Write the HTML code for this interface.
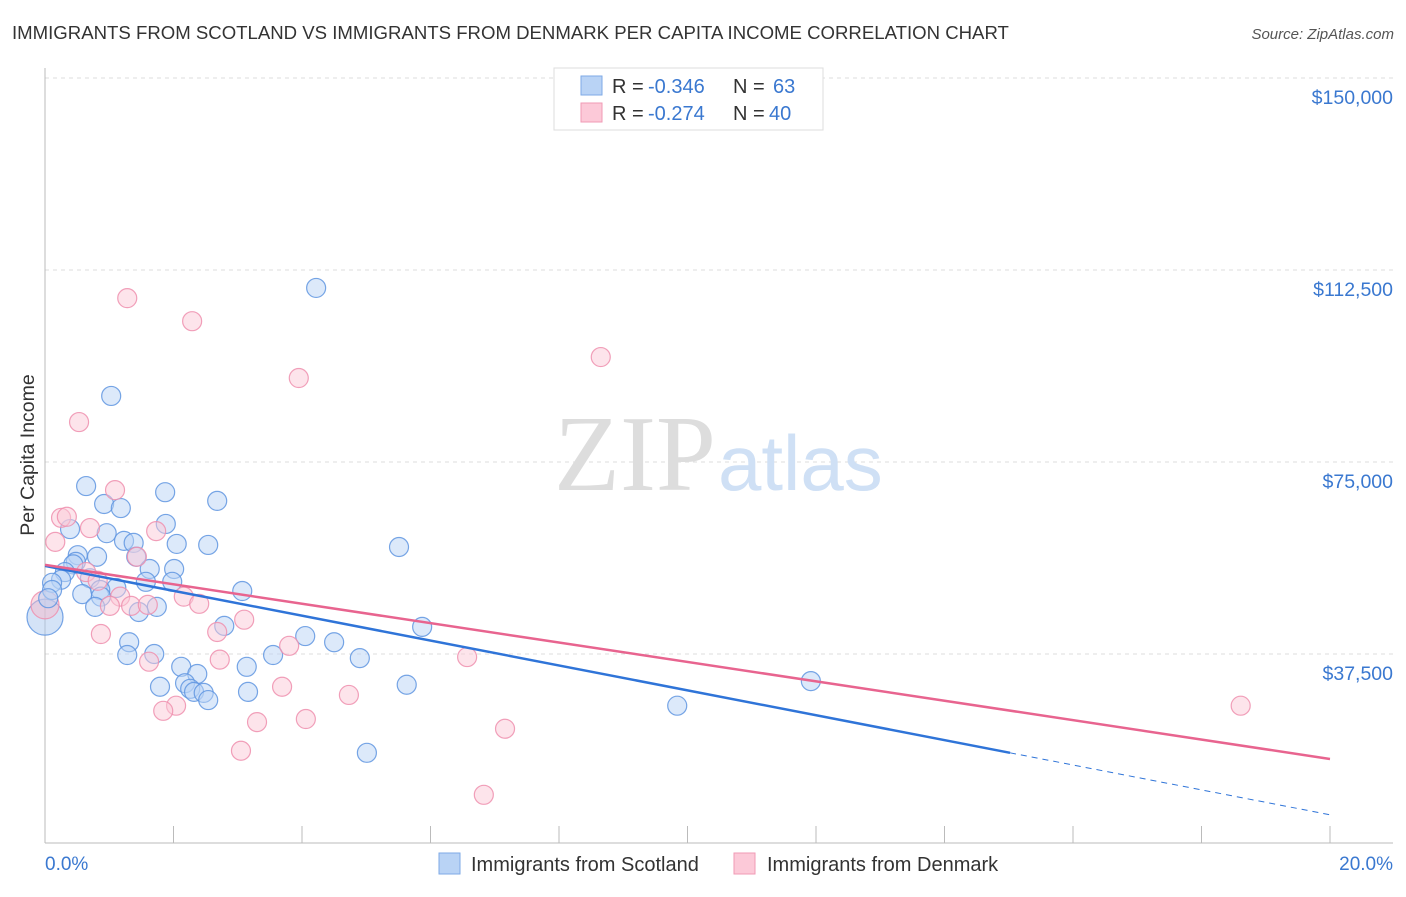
<!DOCTYPE html>
<html><head><meta charset="utf-8"><style>
body{margin:0;background:#fff;font-family:"Liberation Sans",sans-serif}
svg text{font-family:"Liberation Sans",sans-serif}
</style></head><body>
<svg width="1406" height="892" xmlns="http://www.w3.org/2000/svg">
<text x="12" y="39" font-size="18.6" fill="#333">IMMIGRANTS FROM SCOTLAND VS IMMIGRANTS FROM DENMARK PER CAPITA INCOME CORRELATION CHART</text>
<text x="1394" y="39" font-size="15" fill="#555" text-anchor="end" font-style="italic">Source: ZipAtlas.com</text>
<g id="grid"></g>
<text x="716" y="490" font-size="108" fill="#ddd" text-anchor="end" style="font-family:'Liberation Serif',serif">ZIP</text>
<text x="718" y="490" font-size="78" fill="#cfe0f5">atlas</text>
<g id="marks"></g>
<text x="34" y="455" font-size="19.5" fill="#333" text-anchor="middle" transform="rotate(-90 34 455)">Per Capita Income</text>
<text x="45" y="870" font-size="19" fill="#3a78d0">0.0%</text>
<text x="1393" y="870" font-size="19" fill="#3a78d0" text-anchor="end">20.0%</text>
<g>
<rect x="554" y="68" width="269" height="62" fill="#fff" stroke="#ddd"/>
<rect x="581" y="76" width="21" height="19" fill="#b9d3f5" stroke="#7ea9e6"/>
<rect x="581" y="103" width="21" height="19" fill="#fcc9d8" stroke="#f09ab5"/>
<text x="612" y="93" font-size="20" fill="#333">R =</text>
<text x="648" y="93" font-size="20" fill="#3a78d0">-0.346</text>
<text x="733" y="93" font-size="20" fill="#333">N =</text>
<text x="773" y="93" font-size="20" fill="#3a78d0">63</text>
<text x="612" y="120" font-size="20" fill="#333">R =</text>
<text x="648" y="120" font-size="20" fill="#3a78d0">-0.274</text>
<text x="733" y="120" font-size="20" fill="#333">N =</text>
<text x="769" y="120" font-size="20" fill="#3a78d0">40</text>
</g>
<g>
<rect x="439" y="853" width="21" height="21" fill="#b9d3f5" stroke="#7ea9e6"/>
<text x="471" y="871" font-size="20" fill="#333">Immigrants from Scotland</text>
<rect x="734" y="853" width="21" height="21" fill="#fcc9d8" stroke="#f09ab5"/>
<text x="767" y="871" font-size="20" fill="#333">Immigrants from Denmark</text>
</g>
</svg>
<script>
const yTicks=[37500,75000,112500,150000];
const yTickLabels=["$37,500","$75,000","$112,500","$150,000"];
const xTicks=[0,2,4,6,8,10,12,14,16,18,20];
const scotX=[4.22,1.03,0.64,1.87,2.68,0.92,1.18,1.88,0.39,0.96,1.23,1.38,2.05,2.54,5.51,0.51,0.81,1.42,0.48,0.44,1.63,2.01,0.31,0.25,0.11,0.70,1.57,1.98,1.11,3.07,0.58,0.11,0.86,0.87,0.78,1.74,1.46,2.79,5.87,4.05,4.5,1.31,1.28,1.7,3.55,4.9,2.12,3.14,2.37,2.18,11.92,5.63,1.79,2.26,2.32,2.47,3.16,2.54,9.84,5.01,0.05];
const scotY=[109.0,87.9,70.3,69.1,67.4,66.8,66.0,62.9,61.9,61.1,59.6,59.2,59.0,58.8,58.4,56.8,56.5,56.5,55.5,55.0,54.1,54.1,53.5,52.0,51.4,52.3,51.6,51.6,50.4,49.8,49.2,50.0,50.0,48.7,46.7,46.7,45.7,43.0,42.8,41.0,39.8,39.8,37.3,37.5,37.3,36.7,35.0,35.0,33.6,31.8,32.2,31.5,31.1,30.7,30.1,29.9,30.1,28.5,27.4,18.2,48.4];
const denX=[1.28,2.29,8.65,3.95,0.53,1.09,0.25,0.34,0.70,1.73,0.16,1.43,0.64,0.82,1.17,2.16,2.4,1.34,1.01,1.6,3.1,2.68,0.87,3.8,2.72,1.62,6.57,3.69,4.73,2.04,1.84,18.61,4.06,3.3,7.16,3.05,6.83];
const denY=[107.0,102.5,95.5,91.4,82.8,69.5,64.1,64.3,62.1,61.5,59.4,56.5,53.5,51.8,48.7,48.7,47.3,46.9,46.9,47.1,44.2,41.8,41.4,39.1,36.4,36.0,36.9,31.1,29.5,27.4,26.4,27.4,24.8,24.2,22.9,18.6,10.0];
const bigScot=[0,44.7];const bigDen=[0,47.1];
const scotTrend=[54.7,6.1];const scotSolidEnd=15.02;
const denTrend=[54.9,17.0];
const NS="http://www.w3.org/2000/svg";
const X=p=>45+p*64.25;
const Y=v=>78+(150-v)/37.5*192;
function mk(t,a,parent){const e=document.createElementNS(NS,t);for(const k in a)e.setAttribute(k,a[k]);parent.appendChild(e);return e;}
const g=document.getElementById('grid'),m=document.getElementById('marks');
yTicks.forEach((t,i)=>{const y=Y(t/1000);
const l=mk('line',{x1:45,x2:1393,y1:y,y2:y,stroke:'#ddd','stroke-dasharray':'4,4'},g);


const tx=mk('text',{x:1393,y:y+26,'font-size':19.5,fill:'#3a78d0','text-anchor':'end'},g);tx.textContent=yTickLabels[i];

});
const ax=mk('line',{x1:45,x2:45,y1:68,y2:843,stroke:'#bbb'},g);


const bx=mk('line',{x1:45,x2:1393,y1:843,y2:843,stroke:'#bbb'},g);


xTicks.forEach(t=>{const tk=mk('line',{x1:X(t),x2:X(t),y1:826,y2:843,stroke:'#bbb'},g);

});
function pt(x,y,r,fill,stroke,name){const c=mk('circle',{cx:X(x),cy:Y(y),r:r,fill:fill,'fill-opacity':0.5,stroke:stroke,'stroke-opacity':0.85,'stroke-width':1.2},m);

}
pt(bigScot[0],bigScot[1],18,'#a9c8f0','#5f95e0','scotland-point');
pt(bigDen[0],bigDen[1],14,'#f6b9cc','#ee8fae','denmark-point');
scotX.forEach((x,i)=>pt(x,scotY[i],9.5,'#b9d3f5','#5f95e0','scotland-point'));
denX.forEach((x,i)=>pt(x,denY[i],9.5,'#fcc9d8','#ee8fae','denmark-point'));
const sv=p=>scotTrend[0]+(scotTrend[1]-scotTrend[0])*p/20;
let l1=mk('line',{x1:X(0),y1:Y(sv(0)),x2:X(scotSolidEnd),y2:Y(sv(scotSolidEnd)),stroke:'#2f74d8','stroke-width':2.5},m);


let l2=mk('line',{x1:X(scotSolidEnd),y1:Y(sv(scotSolidEnd)),x2:X(20),y2:Y(sv(20)),stroke:'#2f74d8','stroke-width':1,'stroke-dasharray':'6,5'},m);


let l3=mk('line',{x1:X(0),y1:Y(denTrend[0]),x2:X(20),y2:Y(denTrend[1]),stroke:'#e8648f','stroke-width':2.5},m);


</script>
</body></html>
